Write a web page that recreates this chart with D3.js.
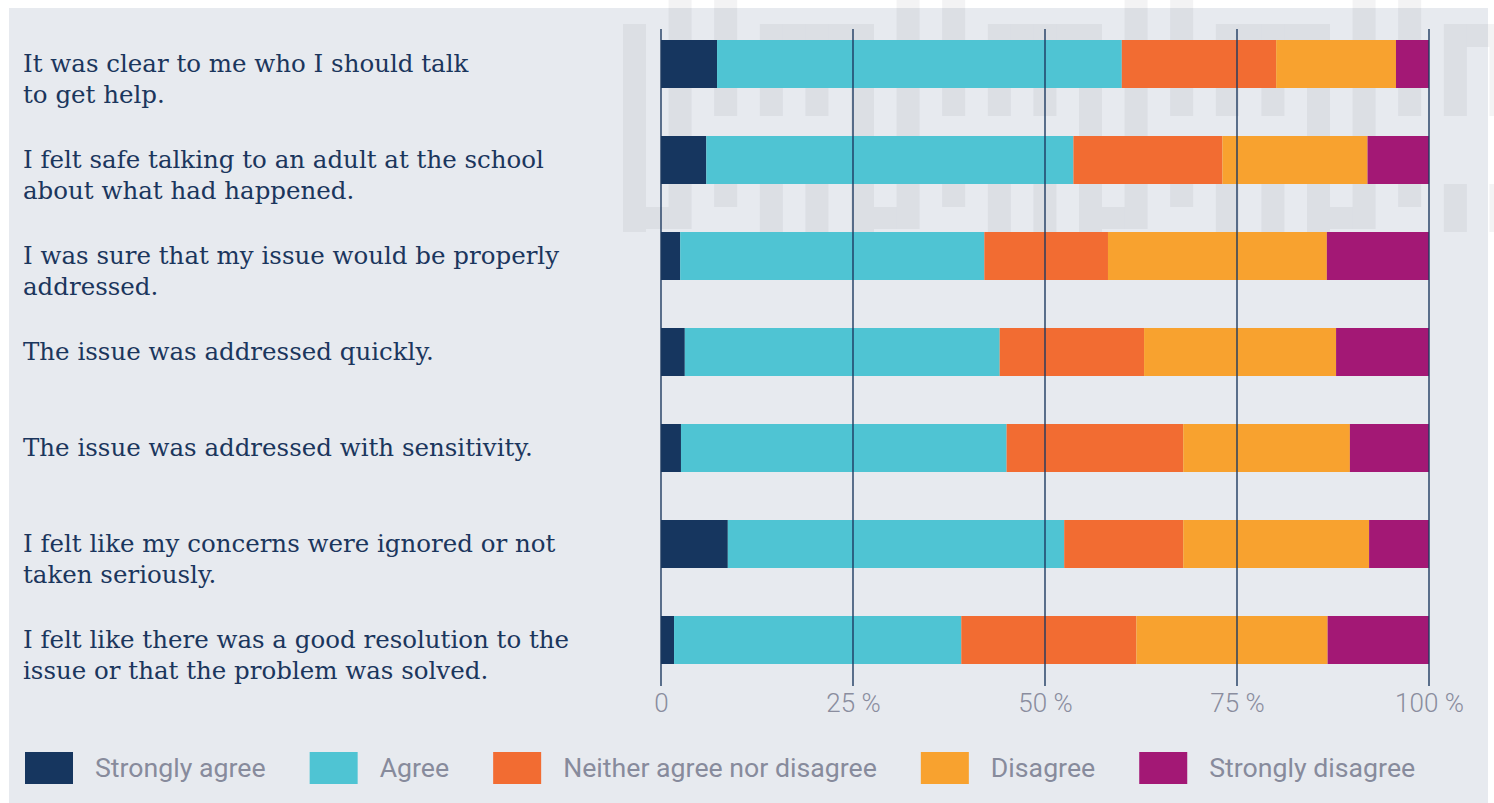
<!DOCTYPE html>
<html>
<head>
<meta charset="utf-8">
<script src="https://cdn.jsdelivr.net/npm/d3@7"></script>
<style>
  html, body { margin: 0; padding: 0; background: #ffffff; }
  svg { display: block; }
</style>
</head>
<body>
<svg id="chart" width="1494" height="803"></svg>
<script>
// Survey statements (one per row, each may wrap to two lines)
const statements = [
  ["It was clear to me who I should talk", "to get help."],
  ["I felt safe talking to an adult at the school", "about what had happened."],
  ["I was sure that my issue would be properly", "addressed."],
  ["The issue was addressed quickly."],
  ["The issue was addressed with sensitivity."],
  ["I felt like my concerns were ignored or not", "taken seriously."],
  ["I felt like there was a good resolution to the", "issue or that the problem was solved."]
];

// Response categories, in stacking order
const responses = ["Strongly agree", "Agree", "Neither agree nor disagree", "Disagree", "Strongly disagree"];

// Percent of respondents per statement, one array per response
const stronglyAgree    = [7.3, 5.9, 2.5, 3.1, 2.6, 8.7, 1.7];
const agree            = [52.7, 47.8, 39.6, 41.0, 42.4, 43.8, 37.4];
const neither          = [20.1, 19.4, 16.1, 18.8, 23.0, 15.5, 22.8];
const disagree         = [15.6, 18.9, 28.5, 25.0, 21.7, 24.2, 24.9];
const stronglyDisagree = [4.3, 8.0, 13.3, 12.1, 10.3, 7.8, 13.2];

// Axis ticks
const tickValues = [0, 25, 50, 75, 100];
const tickLabels = ["0", "25 %", "50 %", "75 %", "100 %"];

const colors = ["#16365f", "#4fc4d3", "#f26c32", "#f8a22f", "#a31875"];

const svg = d3.select("#chart");
const W = 1494, H = 803;

// Background panel
svg.append("rect")
  .attr("x", 9).attr("y", 8)
  .attr("width", 1479).attr("height", H - 8)
  .attr("fill", "#e7eaef");

// Decorative maze-like watermark in the upper right
const wm = svg.append("g").attr("fill", "#0a1428").attr("fill-opacity", 0.05);
const colW = 23, pitch = 45.6, x0 = 623;
const roleSegs = [
  [[0, 229]],                 // tall stem
  [[0, 116], [184, 207]],     // short stem
  [[24, 116], [184, 232]],
  [[24, 116], [184, 232]],
  [[24, 232]]
];
for (let i = 0; i < 20; i++) {
  const role = ((i - 1) % 5 + 5) % 5;
  const cx = x0 + i * pitch;
  roleSegs[role].forEach(([a, b]) => {
    wm.append("rect").attr("x", cx).attr("y", a).attr("width", colW).attr("height", b - a);
  });
  if (role === 2) {
    // top bar joining three stems
    wm.append("rect").attr("x", cx + colW).attr("y", 24).attr("width", pitch - colW).attr("height", 23);
    wm.append("rect").attr("x", cx + pitch + colW).attr("y", 24).attr("width", pitch - colW).attr("height", 23);
  }
  if (role === 4) {
    // foot joining to the next tall stem
    wm.append("rect").attr("x", cx + colW).attr("y", 207).attr("width", pitch - colW).attr("height", 22);
  }
}

// Scales
const x = d3.scaleLinear().domain([0, 100]).range([661, 1429]);
const y = d3.scaleBand()
  .domain(d3.range(statements.length))
  .range([16, 688])
  .paddingInner(0.5)
  .paddingOuter(0.25);
const color = d3.scaleOrdinal().domain(responses).range(colors);

// Stacked data
const table = statements.map((s, i) => ({
  "Strongly agree": stronglyAgree[i],
  "Agree": agree[i],
  "Neither agree nor disagree": neither[i],
  "Disagree": disagree[i],
  "Strongly disagree": stronglyDisagree[i],
  idx: i
}));
const series = d3.stack().keys(responses)(table);

svg.append("g")
  .selectAll("g")
  .data(series)
  .join("g")
  .attr("fill", d => color(d.key))
  .selectAll("rect")
  .data(d => d)
  .join("rect")
  .attr("x", d => x(d[0]))
  .attr("y", d => y(d.data.idx))
  .attr("width", d => x(d[1]) - x(d[0]))
  .attr("height", y.bandwidth());

// Vertical grid lines, drawn over the bars
svg.append("g")
  .selectAll("line")
  .data(tickValues)
  .join("line")
  .attr("x1", d => x(d)).attr("x2", d => x(d))
  .attr("y1", 29).attr("y2", 686)
  .attr("stroke", "#1d3a60")
  .attr("stroke-width", 1.4);

// Bottom axis labels
const xAxis = d3.axisBottom(x)
  .tickValues(tickValues)
  .tickFormat((d, i) => tickLabels[i])
  .tickSize(0)
  .tickPadding(0);
const axisG = svg.append("g")
  .attr("transform", "translate(0,694)")
  .call(xAxis);
axisG.select(".domain").remove();
axisG.selectAll("text")
  .attr("fill", "#8a8d9e")
  .style("font-family", "Roboto, sans-serif")
  .style("font-weight", 300)
  .style("font-size", "26px");

// Statement labels
const labelG = svg.append("g")
  .attr("fill", "#1b365d")
  .style("font-family", "'DejaVu Serif', serif")
  .style("font-size", "24.5px");
statements.forEach((lines, i) => {
  const cy = y(i) + y.bandwidth() / 2;
  const t = labelG.append("text").attr("x", 23).attr("y", cy + 8);
  lines.forEach((ln, j) => {
    t.append("tspan").attr("x", 23).attr("dy", j === 0 ? 0 : 31).text(ln);
  });
});

// Legend
const legend = svg.append("g")
  .style("font-family", "Roboto, sans-serif")
  .style("font-size", "26.7px");
let lx = 25;
responses.forEach(r => {
  legend.append("rect")
    .attr("x", lx).attr("y", 752)
    .attr("width", 48).attr("height", 32)
    .attr("fill", color(r));
  const t = legend.append("text")
    .attr("x", lx + 70).attr("y", 777)
    .attr("fill", "#878b9c")
    .text(r);
  lx += 70 + t.node().getComputedTextLength() + 44;
});
</script>
</body>
</html>
